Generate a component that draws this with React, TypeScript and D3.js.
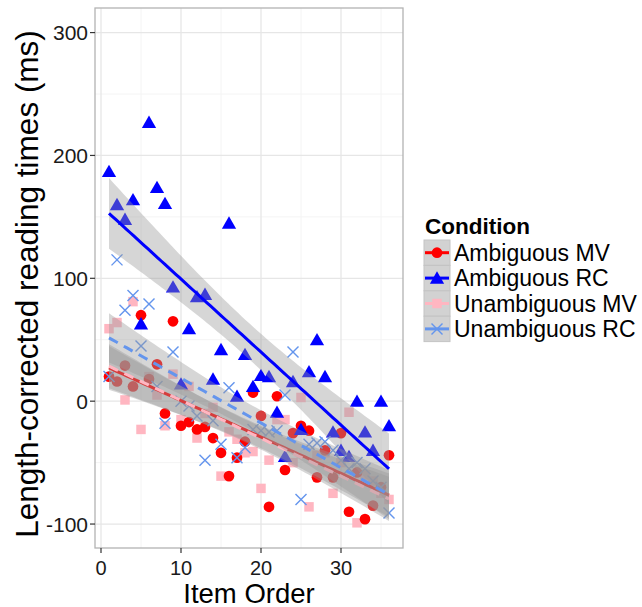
import * as d3 from 'd3';
import React from 'react';

const itemOrder = [1, 2, 3, 4, 5, 6, 7, 8, 9, 10, 11, 12, 13, 14, 15, 16, 17, 18,
  19, 20, 21, 22, 23, 24, 25, 26, 27, 28, 29, 30, 31, 32, 33, 34, 35, 36];

const ambiguousMV = [20, 16, 29, 12, 70, 18, 30, -10, 65, -20, -17, -23, -21, -30, -42, -61, -46, -33,
  7, -12, -86, 4, -56, -26, -20, -24, -62, -40, -62, -26, -90, -58, -96, -85, -70, -44];
const ambiguousRC = [187, 160, 148, 164, 63, 227, 174, 161, 93, 14, 59, 85, 87, 18, 42, 145, 4, 38,
  12, 21, 20, -9, -45, 16, -23, 24, 50, 20, -25, -40, -45, 0, -25, -40, 0, -20];
const unambiguousMV = [59, 64, 1, 81, -23, 20, 5, -20, 22, -15, 12, -30, -10, -5, -61, -25, -31, -42,
  -41, -71, -48, -15, -15, -50, 3, -86, -44, -42, -75, -50, -9, -99, -60, -65, -75, -80];
const unambiguousRC = [20, 115, 74, 86, 45, 79, 12, -18, 40, 0, -4, -12, -48, -16, -35, 11, -46, -38,
  -23, -24, -25, -24, 5, 40, -80, -35, -34, -33, -40, -48, -55, -50, -55, -65, -70, -91];

const conditions = ['Ambiguous MV', 'Ambiguous RC', 'Unambiguous MV', 'Unambiguous RC'];
const condColors = ['#FF0000', '#0000FF', '#FFB6C1', '#6495ED'];
const condShapes = ['circle', 'triangle', 'square', 'cross'];
const condDash = [null, null, '10,7', '10,7'];
const seriesValues = [ambiguousMV, ambiguousRC, unambiguousMV, unambiguousRC];

const xTicks = [0, 10, 20, 30];
const xMinor = [5, 15, 25, 35];
const yTicks = [-100, 0, 100, 200, 300];
const yMinor = [-50, 50, 150, 250];

const W = 642;
const H = 607;
const panel = { left: 95, right: 403, top: 8, bottom: 548 };

const x = d3.scaleLinear().domain([-0.75, 37.75]).range([panel.left, panel.right]);
const y = d3.scaleLinear().domain([-119.5, 320]).range([panel.bottom, panel.top]);

// linear model with 95% confidence band, like geom_smooth(method = "lm")
function fitLm(xs: number[], ys: number[]) {
  const n = xs.length;
  const xbar = d3.mean(xs)!;
  const ybar = d3.mean(ys)!;
  let sxx = 0, sxy = 0;
  xs.forEach((xv, i) => { sxx += (xv - xbar) ** 2; sxy += (xv - xbar) * (ys[i] - ybar); });
  const b = sxy / sxx;
  const a = ybar - b * xbar;
  let sse = 0;
  xs.forEach((xv, i) => { sse += (ys[i] - (a + b * xv)) ** 2; });
  const s = Math.sqrt(sse / (n - 2));
  const t = 2.032;
  const lo = d3.min(xs)!, hi = d3.max(xs)!;
  const grid = d3.range(0, 81).map(k => lo + (hi - lo) * k / 80);
  return grid.map(g => {
    const fit = a + b * g;
    const se = s * Math.sqrt(1 / n + (g - xbar) ** 2 / sxx);
    return { x: g, fit, lo: fit - t * se, hi: fit + t * se };
  });
}

function Marker({ shape, color, cx, cy }: { shape: string; color: string; cx: number; cy: number }) {
  if (shape === 'cross') {
    const r = 5.5;
    return (
      <g stroke={color} strokeWidth={1.4}>
        <line x1={cx - r} y1={cy - r} x2={cx + r} y2={cy + r} />
        <line x1={cx - r} y1={cy + r} x2={cx + r} y2={cy - r} />
      </g>
    );
  }
  const sym = shape === 'circle' ? d3.symbolCircle : shape === 'triangle' ? d3.symbolTriangle : d3.symbolSquare;
  const size = shape === 'circle' ? 90 : shape === 'triangle' ? 88 : 90;
  const d = d3.symbol().type(sym).size(size)()!;
  const dy = shape === 'triangle' ? 1.5 : 0;
  return <path d={d} transform={`translate(${cx},${cy + dy})`} fill={color} />;
}

export default function App() {
  const fits = seriesValues.map(vals => fitLm(itemOrder, vals));
  const area = d3.area<{ x: number; lo: number; hi: number }>()
    .x(d => x(d.x)).y0(d => y(d.lo)).y1(d => y(d.hi));
  const line = d3.line<{ x: number; fit: number }>()
    .x(d => x(d.x)).y(d => y(d.fit));

  const font = '"Liberation Sans", Arial, Helvetica, sans-serif';
  const drawOrder = [2, 0, 1, 3];
  const legendX = 424;
  const legendTop = 240;
  const keyH = 25.4;

  return (
    <svg width={W} height={H} style={{ position: 'absolute', left: 0, top: 0, background: '#fff' }}
      fontFamily={font}>
      <rect x={0} y={0} width={W} height={H} fill="#fff" />
      {/* grid */}
      {xMinor.map(v => (
        <line key={'xm' + v} x1={x(v)} x2={x(v)} y1={panel.top} y2={panel.bottom} stroke="#F4F4F4" strokeWidth={1} />
      ))}
      {yMinor.map(v => (
        <line key={'ym' + v} y1={y(v)} y2={y(v)} x1={panel.left} x2={panel.right} stroke="#F4F4F4" strokeWidth={1} />
      ))}
      {xTicks.map(v => (
        <line key={'xg' + v} x1={x(v)} x2={x(v)} y1={panel.top} y2={panel.bottom} stroke="#E6E6E6" strokeWidth={1.3} />
      ))}
      {yTicks.map(v => (
        <line key={'yg' + v} y1={y(v)} y2={y(v)} x1={panel.left} x2={panel.right} stroke="#E6E6E6" strokeWidth={1.3} />
      ))}

      {/* points */}
      {drawOrder.map(ci => (
        <g key={'pts' + ci}>
          {seriesValues[ci].map((v, i) => (
            <Marker key={i} shape={condShapes[ci]} color={condColors[ci]} cx={x(itemOrder[i])} cy={y(v)} />
          ))}
        </g>
      ))}

      {/* smooths */}
      {fits.map((f, ci) => (
        <g key={'fit' + ci}>
          <path d={area(f)!} fill="#999999" fillOpacity={0.4} />
          <path d={line(f)!} fill="none" stroke={condColors[ci]} strokeWidth={3}
            strokeDasharray={condDash[ci] ?? undefined} />
        </g>
      ))}

      {/* panel border */}
      <rect x={panel.left} y={panel.top} width={panel.right - panel.left} height={panel.bottom - panel.top}
        fill="none" stroke="#B3B3B3" strokeWidth={1.3} />

      {/* axes */}
      {yTicks.map(v => (
        <g key={'yt' + v}>
          <line x1={panel.left - 5} x2={panel.left} y1={y(v)} y2={y(v)} stroke="#333" strokeWidth={1.2} />
          <text x={panel.left - 7} y={y(v) + 7.5} textAnchor="end" fontSize={21} fill="#1a1a1a">{v}</text>
        </g>
      ))}
      {xTicks.map(v => (
        <g key={'xt' + v}>
          <line x1={x(v)} x2={x(v)} y1={panel.bottom} y2={panel.bottom + 5} stroke="#333" strokeWidth={1.2} />
          <text x={x(v)} y={575} textAnchor="middle" fontSize={20} fill="#1a1a1a">{v}</text>
        </g>
      ))}
      <text x={(panel.left + panel.right) / 2} y={602.5} textAnchor="middle" fontSize={27.5} fill="#000">Item Order</text>
      <text transform={`translate(38,284) rotate(-90)`} textAnchor="middle"
        fontSize={31.5} fill="#000">Length-corrected reading times (ms)</text>

      {/* legend */}
      <text x={legendX + 1} y={233.5} fontSize={22.5} fontWeight="bold" fill="#000">Condition</text>
      {conditions.map((c, ci) => {
        const top = legendTop + ci * keyH;
        const cy = top + keyH / 2;
        return (
          <g key={'lg' + ci}>
            <rect x={legendX} y={top} width={26} height={keyH} fill="#D2D2D2" stroke="#C4C4C4" strokeWidth={1} />
            <line x1={legendX + 1} x2={legendX + 25} y1={cy} y2={cy} stroke={condColors[ci]} strokeWidth={3} />
            <Marker shape={condShapes[ci]} color={condColors[ci]} cx={legendX + 13} cy={cy} />
            <text x={legendX + 30} y={cy + 8} fontSize={23} fill="#000">{c}</text>
          </g>
        );
      })}
    </svg>
  );
}
